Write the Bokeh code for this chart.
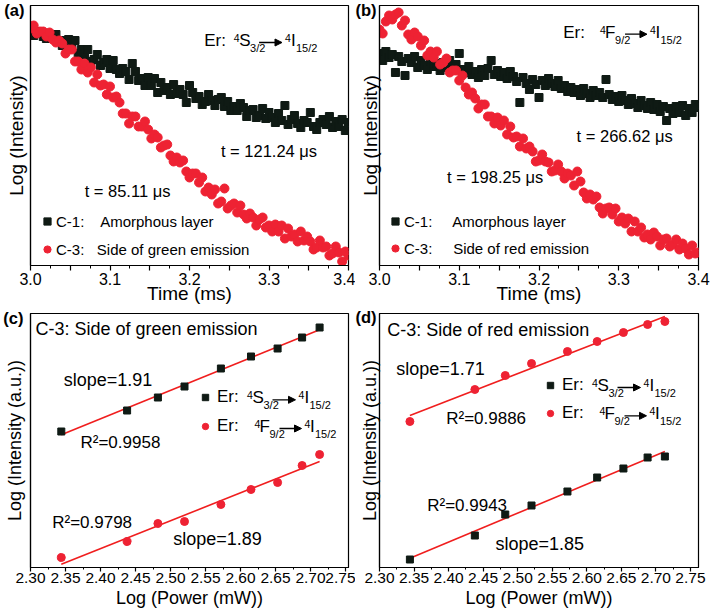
import numpy as np
from bokeh.plotting import figure
from bokeh.models import (Range1d, Label, Arrow, NormalHead, FixedTicker,
                          CustomJSTickFormatter, Legend, LegendItem)
from bokeh.layouts import gridplot
from bokeh.embed import file_html
from bokeh.resources import INLINE

FONT = "Liberation Sans"
BLACK = "#0f1a14"
RED = "#ee2233"
FIT_RED = "#f01e1e"

# ---------------- data ----------------
time_ms = np.linspace(3.0, 3.4, 101)

a_c1 = [234, 230, 232, 234, 229, 227, 230, 228, 231, 225,
        220, 225, 226, 219, 225, 212, 216, 211, 216, 204,
        206, 211, 200, 203, 206, 197, 205, 196, 192, 197,
        194, 186, 202, 194, 185, 187, 180, 188, 180, 187,
        173, 183, 175, 178, 171, 181, 172, 176, 171, 163,
        180, 173, 167, 169, 161, 164, 171, 165, 160, 166,
        168, 159, 164, 155, 159, 155, 162, 158, 149, 155,
        156, 148, 150, 157, 147, 153, 148, 143, 152, 145,
        160, 141, 146, 150, 142, 138, 145, 143, 153, 139,
        136, 143, 146, 141, 149, 138, 144, 139, 146, 135, 143]
a_c3 = [237, 240, 232, 234, 234, 229, 233, 226, 223, 225,
        222, 212, 216, 216, 204, 204, 196, 202, 193, 198,
        183, 191, 180, 181, 171, 179, 168, 169, 163, 152,
        152, 142, 149, 149, 139, 139, 144, 136, 127, 131,
        128, 118, 120, 121, 110, 104, 108, 103, 105, 94,
        88, 92, 92, 83, 88, 74, 78, 71, 76, 62,
        64, 77, 57, 60, 62, 53, 60, 51, 47, 52,
        48, 40, 46, 48, 38, 40, 34, 41, 34, 40,
        27, 37, 29, 31, 24, 34, 25, 29, 24, 16,
        18, 25, 18, 19, 10, 12, 19, 13, 4, 14, 10]
b_c1 = [212, 205, 214, 208, 211, 193, 209, 204, 190, 207,
        203, 209, 198, 205, 200, 196, 204, 199, 202, 195,
        203, 198, 205, 197, 201, 212, 196, 193, 199, 191,
        194, 188, 196, 190, 197, 205, 191, 195, 189, 193,
        187, 194, 189, 184, 163, 188, 182, 176, 186, 181,
        168, 185, 180, 187, 182, 179, 185, 177, 180, 174,
        178, 173, 176, 170, 177, 172, 168, 175, 170, 173,
        168, 186, 171, 166, 169, 164, 170, 165, 161, 167,
        162, 158, 165, 160, 157, 163, 156, 161, 154, 159,
        145, 157, 152, 159, 153, 160, 150, 157, 153, 161, 158]
b_c3 = [236, 232, 244, 250, 246, 251, 253, 240, 245, 231,
        226, 233, 229, 220, 225, 210, 214, 208, 214, 201,
        203, 207, 193, 195, 195, 185, 190, 178, 171, 173,
        167, 157, 161, 161, 149, 149, 142, 148, 140, 145,
        131, 139, 128, 129, 119, 127, 117, 119, 114, 104,
        105, 111, 104, 103, 94, 95, 101, 94, 87, 92,
        90, 80, 94, 84, 73, 67, 71, 66, 69, 58,
        52, 57, 58, 51, 57, 44, 48, 42, 47, 34,
        44, 34, 38, 28, 31, 26, 33, 29, 20, 26,
        27, 19, 21, 26, 16, 22, 17, 11, 20, 12, 13]

log_power = [2.344, 2.438, 2.482, 2.520, 2.572, 2.615, 2.653, 2.688, 2.713]
c_green = [136, 157, 170, 181, 199, 211, 219, 230, 240]
c_red = [10, 26, 44, 46, 63, 78, 85, 102, 113]
d_red = [146, 178, 192, 204, 216, 226, 235, 243, 246]
d_green = [8, 32, 53, 62, 76, 90, 99, 110, 111]

time_ticks = [3.0, 3.05, 3.1, 3.15, 3.2, 3.25, 3.3, 3.35, 3.4]
time_minor = [3.025, 3.075, 3.125, 3.175, 3.225, 3.275, 3.325, 3.375]
power_ticks = [2.30, 2.35, 2.40, 2.45, 2.50, 2.55, 2.60, 2.65, 2.70, 2.75]
power_minor = [2.325, 2.375, 2.425, 2.475, 2.525, 2.575, 2.625, 2.675, 2.725]


class Pane:
    def __init__(self, left, top, w, h, x0, x1, y0, y1):
        self.left, self.top, self.w, self.h = left, top, w, h
        self.x0, self.x1, self.y0, self.y1 = x0, x1, y0, y1

    def dx(self, px):
        return self.x0 + (px - self.left) / self.w * (self.x1 - self.x0)

    def dy(self, py):
        return self.y0 + (self.top + self.h - py) / self.h * (self.y1 - self.y0)


def make_fig(pane, width, height, bl, br, bt, bb, tag, tag_py, tag_standoff):
    p = figure(width=width, height=height, output_backend="svg", toolbar_location=None,
               x_range=Range1d(pane.x0, pane.x1), y_range=Range1d(pane.y0, pane.y1),
               min_border_left=bl, min_border_right=br, min_border_top=bt, min_border_bottom=bb)
    p.grid.visible = False
    p.outline_line_color = "black"
    p.outline_line_width = 1.2
    p.background_fill_color = "white"
    p.border_fill_color = "white"
    for ax in (p.xaxis[0], p.yaxis[0]):
        ax.axis_line_color = "black"
        ax.axis_line_width = 1.2
        ax.major_tick_line_color = "black"
        ax.minor_tick_line_color = "black"
        ax.major_tick_line_width = 1.2
        ax.major_tick_in = 0
        ax.minor_tick_in = 0
        ax.major_label_text_font = FONT
        ax.major_label_text_color = "black"
        ax.axis_label_text_font = FONT
        ax.axis_label_text_font_style = "normal"
        ax.axis_label_text_color = "black"
    # the panel tag "(a)" etc. is the single (tick-less) label of the y axis
    y = p.yaxis[0]
    y.ticker = FixedTicker(ticks=[pane.dy(tag_py)])
    y.formatter = CustomJSTickFormatter(code="return '%s';" % tag)
    y.major_tick_out = 0
    y.minor_tick_out = 0
    y.major_label_standoff = tag_standoff
    y.major_label_text_font_size = "16.5px"
    y.major_label_text_font_style = "bold"
    return p


def txt(p, pane, px, py, s, size, bold=False, align="left", baseline="middle"):
    p.add_layout(Label(x=pane.dx(px), y=pane.dy(py), text=s, text_font=FONT,
                       text_font_size=f"{size}px", text_color="black",
                       text_font_style="bold" if bold else "normal",
                       text_align=align, text_baseline=baseline))


def transition(p, pane, x0, cy, upper, include_er=True, size=17):
    if include_er:
        txt(p, pane, x0, cy, "Er:", size)
    if upper == "S":
        o = dict(sup1=29.5, main=35.0, sub1=46.0, a0=55, a1=78, sup2=81.0, I=87.0, sub2=92.0)
        sub1 = "3/2"
    else:
        o = dict(sup1=37.0, main=42.0, sub1=52.0, a0=62, a1=84, sup2=87.0, I=92.5, sub2=97.5)
        sub1 = "9/2"
    txt(p, pane, x0 + o["sup1"], cy - 2.5, "4", 10.5)
    txt(p, pane, x0 + o["main"], cy, upper, size)
    txt(p, pane, x0 + o["sub1"], cy + 7.5, sub1, 11)
    yy = pane.dy(cy + 2)
    p.add_layout(Arrow(x_start=pane.dx(x0 + o["a0"]), y_start=yy,
                       x_end=pane.dx(x0 + o["a1"]), y_end=yy,
                       line_color="black", line_width=1.3,
                       end=NormalHead(size=7, fill_color="black", line_color="black", line_width=1)))
    txt(p, pane, x0 + o["sup2"], cy - 2.5, "4", 10.5)
    txt(p, pane, x0 + o["I"], cy, "I", size)
    txt(p, pane, x0 + o["sub2"], cy + 7.5, "15/2", 11)


def time_axes(p, ylabel_standoff):
    x = p.xaxis[0]
    x.ticker = FixedTicker(ticks=time_ticks, minor_ticks=time_minor)
    x.formatter = CustomJSTickFormatter(
        code="return (Math.round(tick*100) % 10 === 0) ? tick.toFixed(1) : '';")
    x.major_tick_out = 5
    x.minor_tick_out = 3
    x.major_label_standoff = 2
    x.major_label_text_font_size = "16px"
    x.axis_label = "Time (ms)"
    x.axis_label_text_font_size = "19px"
    x.axis_label_standoff = -5
    y = p.yaxis[0]
    y.axis_label = "Log (Intensity)"
    y.axis_label_text_font_size = "19px"
    y.axis_label_standoff = ylabel_standoff


def power_axes(p, ylabel_standoff):
    x = p.xaxis[0]
    x.ticker = FixedTicker(ticks=power_ticks, minor_ticks=power_minor)
    x.formatter = CustomJSTickFormatter(code="return tick.toFixed(2);")
    x.major_tick_out = 4
    x.minor_tick_out = 2
    x.major_label_standoff = 1
    x.major_label_text_font_size = "15.5px"
    x.axis_label = "Log (Power (mW))"
    x.axis_label_text_font_size = "18px"
    x.axis_label_standoff = 2
    y = p.yaxis[0]
    y.axis_label = "Log (Intensity (a.u.))"
    y.axis_label_text_font_size = "18px"
    y.axis_label_standoff = ylabel_standoff


def legend(p, items, loc, spacing, gw, gh, standoff, size):
    lg = Legend(items=items, location=loc, orientation="vertical",
                padding=0, margin=0, spacing=spacing,
                glyph_width=gw, glyph_height=gh, label_height=gh,
                label_standoff=standoff, label_text_font=FONT,
                label_text_font_size=f"{size}px", label_text_color="black",
                border_line_alpha=0, background_fill_alpha=0)
    p.add_layout(lg)


# ---------------- (a) ----------------
PA = Pane(29, 5, 319, 260, 3.0, 3.4, 0, 260)
pa = make_fig(PA, 355, 307, 29, 7, 5, 42, "(a)", 9, 6)
time_axes(pa, -26)
ra1 = pa.scatter(time_ms, a_c1, marker="square", size=8, color=BLACK)
ra3 = pa.scatter(time_ms, a_c3, marker="circle", size=9, color=RED)
legend(pa, [LegendItem(label="C-1:    Amorphous layer", renderers=[ra1]),
            LegendItem(label="C-3:   Side of green emission", renderers=[ra3])],
       (8, 6), 8, 18, 20, 0, 15)
transition(pa, PA, 203.3, 40, "S")
txt(pa, PA, 220, 150, "t = 121.24 μs", 16.5)
txt(pa, PA, 83.3, 190.7, "t = 85.11 μs", 16.5)

# ---------------- (b) ----------------
PB = Pane(379, 5, 320, 260, 3.0, 3.4, 0, 260)
pb = make_fig(PB, 358, 307, 24, 14, 5, 42, "(b)", 9, 3)
time_axes(pb, -29)
rb1 = pb.scatter(time_ms, b_c1, marker="square", size=8, color=BLACK)
rb3 = pb.scatter(time_ms, b_c3, marker="circle", size=9, color=RED)
legend(pb, [LegendItem(label="C-1:     Amorphous layer", renderers=[rb1]),
            LegendItem(label="C-3:     Side of red emission", renderers=[rb3])],
       (7, 7), 7, 18, 20, -1, 15)
transition(pb, PB, 563.3, 31.7, "F")
txt(pb, PB, 576.7, 135, "t = 266.62 μs", 16.5)
txt(pb, PB, 446.7, 176.7, "t = 198.25 μs", 16.5)

# ---------------- (c) ----------------
PC = Pane(30, 313, 318, 254, 2.30, 2.30 + 318 / 700, 0, 254)
pc = make_fig(PC, 355, 307, 30, 7, 6, 47, "(c)", 317, 7)
power_axes(pc, -25)
xp = np.array(log_power)
kg = np.polyfit(xp, c_green, 1)
kr = np.polyfit(xp, c_red, 1)
ends = np.array([xp[0], xp[-1]])
pc.line(ends, np.polyval(kg, ends), line_color=FIT_RED, line_width=1.6)
pc.line(ends, np.polyval(kr, ends), line_color=FIT_RED, line_width=1.6)
rc1 = pc.scatter(xp, c_green, marker="square", size=7, color=BLACK)
rc3 = pc.scatter(xp, c_red, marker="circle", size=8, color=RED)
legend(pc, [LegendItem(label="Er:", renderers=[rc1]),
            LegendItem(label="Er:", renderers=[rc3])],
       (167, 131), 9, 16, 20, 4, 17)
transition(pc, PC, 217, 397.3, "S", include_er=False)
transition(pc, PC, 217, 426.0, "F", include_er=False)
txt(pc, PC, 35, 328.3, "C-3:   Side of green emission", 18)
txt(pc, PC, 63.3, 379, "slope=1.91", 18)
txt(pc, PC, 80, 441.7, "R²=0.9958", 17)
txt(pc, PC, 51.7, 521.7, "R²=0.9798", 17)
txt(pc, PC, 172.7, 538.3, "slope=1.89", 18)

# ---------------- (d) ----------------
PD = Pane(379, 313, 319, 254, 2.30, 2.30 + 319 / 691, 0, 254)
pd_ = make_fig(PD, 358, 307, 24, 15, 6, 47, "(d)", 316, 3)
power_axes(pd_, -28)
kr2 = np.polyfit(xp, d_red, 1)
kg2 = np.polyfit(xp, d_green, 1)
pd_.line(ends, np.polyval(kr2, ends), line_color=FIT_RED, line_width=1.6)
pd_.line(ends, np.polyval(kg2, ends), line_color=FIT_RED, line_width=1.6)
rd1 = pd_.scatter(xp, d_green, marker="square", size=7, color=BLACK)
rd3 = pd_.scatter(xp, d_red, marker="circle", size=8, color=RED)
legend(pd_, [LegendItem(label="Er:", renderers=[rd1]),
             LegendItem(label="Er:", renderers=[rd3])],
       (163, 144), 8, 16, 20, 4, 17)
transition(pd_, PD, 562, 385, "S", include_er=False)
transition(pd_, PD, 562, 413.3, "F", include_er=False)
txt(pd_, PD, 386.7, 329.3, "C-3:    Side of red emission", 18)
txt(pd_, PD, 395.7, 368.3, "slope=1.71", 18)
txt(pd_, PD, 445.7, 418.3, "R²=0.9886", 17)
txt(pd_, PD, 426.7, 505, "R²=0.9943", 17)
txt(pd_, PD, 495, 543.3, "slope=1.85", 18)

grid = gridplot([[pa, pb], [pc, pd_]], toolbar_location=None)

with open("out.html", "w") as f:
    f.write(file_html(grid, INLINE))
